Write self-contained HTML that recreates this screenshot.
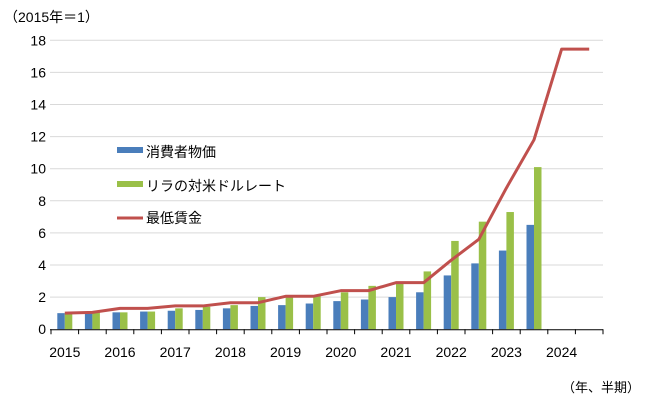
<!DOCTYPE html>
<html><head><meta charset="utf-8"><style>body{margin:0;background:#fff}svg{display:block}text{font-family:"Liberation Sans","Noto Sans CJK JP",sans-serif;fill:#000}</style></head>
<body>
<svg width="652" height="414" xmlns="http://www.w3.org/2000/svg">
<g id="g"></g>
<text x="4" y="22" font-size="14">（2015年＝1）</text>
<text x="562" y="392" font-size="13">（年、半期）</text>
<rect x="117" y="147" width="26" height="6" fill="#4a7ebb"/>
<text x="146" y="157" font-size="14">消費者物価</text>
<rect x="117" y="181" width="26" height="6" fill="#9ac048"/>
<text x="146" y="191" font-size="14">リラの対米ドルレート</text>
<line x1="117" y1="218" x2="143" y2="218" stroke="#c0504d" stroke-width="3"/>
<text x="146" y="223" font-size="14">最低賃金</text>
</svg>
<script>
var g=document.getElementById('g'),s='';
var y0=329.2,k=16.05,x0=51,w=27.6;
for(var v=2;v<=18;v+=2){var y=y0-v*k;s+='<line x1="50" x2="603" y1="'+y+'" y2="'+y+'" stroke="#d9d9d9"/>';}
for(var v=0;v<=18;v+=2){s+='<text x="46" y="'+(y0-v*k+5)+'" font-size="14" text-anchor="end">'+v+'</text>';}
var b=[1.0,1.0,1.05,1.1,1.15,1.2,1.3,1.45,1.5,1.6,1.75,1.85,2.0,2.3,3.35,4.1,4.9,6.5];
var gr=[1.0,1.05,1.05,1.1,1.3,1.4,1.5,2.0,2.05,2.1,2.3,2.7,2.85,3.6,5.5,6.7,7.3,10.1];
var l=[1.0,1.05,1.3,1.3,1.45,1.45,1.65,1.65,2.05,2.05,2.4,2.4,2.9,2.9,4.3,5.6,8.8,11.8,17.45,17.45];
for(var i=0;i<b.length;i++){var c=x0+w*(i+0.5);
s+='<rect x="'+(c-7.5)+'" y="'+(y0-b[i]*k)+'" width="7.5" height="'+(b[i]*k)+'" fill="#4a7ebb"/>';
s+='<rect x="'+c+'" y="'+(y0-gr[i]*k)+'" width="7.5" height="'+(gr[i]*k)+'" fill="#9ac048"/>';}
var p=l.map(function(v,i){return (x0+w*(i+0.5))+','+(y0-v*k)}).join(' ');
s+='<polyline points="'+p+'" fill="none" stroke="#c0504d" stroke-width="3" stroke-linejoin="round"/>';
s+='<line x1="50" x2="603" y1="'+(y0+0.5)+'" y2="'+(y0+0.5)+'" stroke="#000"/>';
for(var i=0;i<=20;i++){var x=x0+w*i;s+='<line x1="'+x+'" x2="'+x+'" y1="'+y0+'" y2="'+(y0+5)+'" stroke="#000"/>';}
for(var i=0;i<10;i++){s+='<text x="'+(x0+w*(2*i+0.5))+'" y="357" font-size="14" text-anchor="middle">'+(2015+i)+'</text>';}
g.innerHTML=s;
</script>
</body></html>
